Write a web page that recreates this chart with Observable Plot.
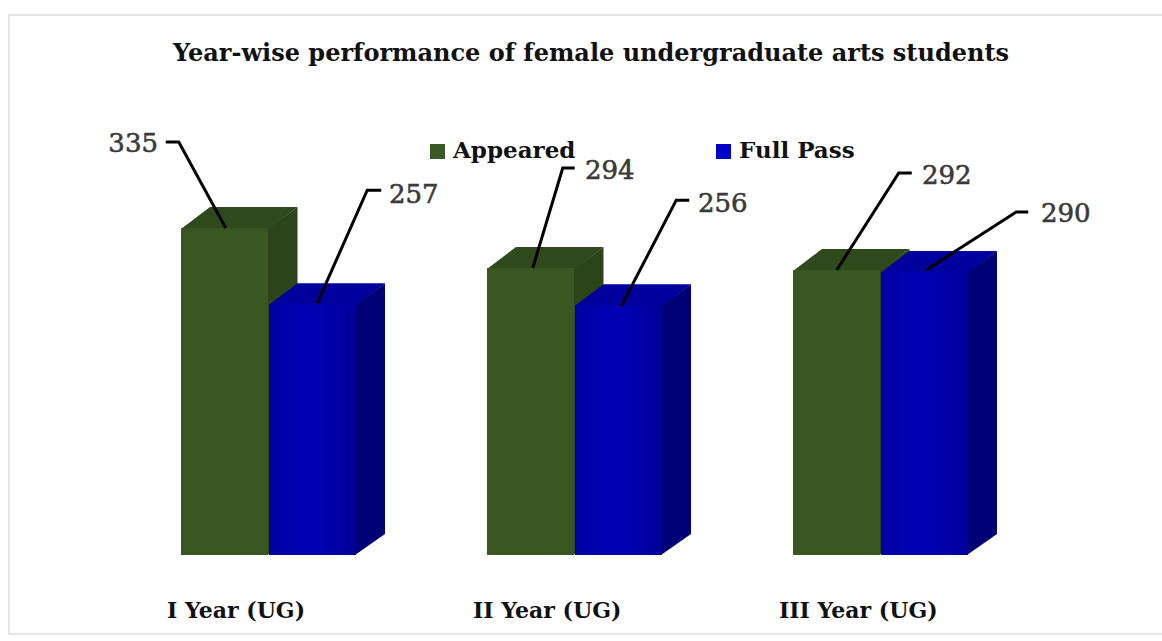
<!DOCTYPE html>
<html>
<head>
<meta charset="utf-8">
<script src="https://cdn.jsdelivr.net/npm/d3@7"></script>
<script src="https://cdn.jsdelivr.net/npm/@observablehq/plot@0.6"></script>
<style>
  body { margin: 0; background: #fff; }
  #wrap { position: relative; width: 1162px; height: 641px; overflow: hidden; font-family: "DejaVu Serif", serif; background: #fff; }
  #frame { position: absolute; left: 8px; top: 14px; width: 1180px; height: 621px; border: 2px solid #e6e6e6; box-sizing: border-box; }
  #title { position: absolute; left: 0; width: 1182px; top: 41px; text-align: center; font-weight: bold; font-size: 24px; line-height: 1; color: #111; white-space: nowrap; }
  .leg { position: absolute; top: 138px; display: flex; align-items: center; font-weight: bold; font-size: 23px; line-height: 1; color: #111; white-space: nowrap; }
  .sw { width: 15px; height: 15px; margin-right: 8px; position: relative; top: 2px; }
  #chart { position: absolute; left: 0; top: 0; }
</style>
</head>
<body>
<div id="wrap">
  <div id="frame"></div>
  <div id="title"></div>
  <div id="legend"></div>
  <div id="chart"></div>
</div>
<script>
// ---- data ----
const titleText = "Year-wise performance of female undergraduate arts students";
const years = ["I Year (UG)", "II Year (UG)", "III Year (UG)"];
const seriesNames = ["Appeared", "Full Pass"];
const appeared = [335, 294, 292];
const fullPass = [257, 256, 290];

// ---- styling / layout config ----
const palette = {
  "Appeared": { front: "#385723", top: "#2e4a1c", side: "#2b4419", legend: "#3a5a25" },
  "Full Pass": { front: "url(#blueGrad)", top: "#00009c", side: "#000076", legend: "#0000c8" }
};
const DEPTH_X = 29, DEPTH_Y = -21;
// leader offsets relative to the front-top centre of each bar (pixels)
const labelOffsets = [
  { ax: 1, ay: 0,  ex: -46, ey: -86,  len: 13, tx: -67, ty: -85 },
  { ax: 2, ay: 0,  ex: 32,  ey: -100, len: 12, tx: 54,  ty: -98 },
  { ax: 0, ay: 0,  ex: 62,  ey: -97,  len: 13, tx: 85,  ty: -95 },
  { ax: 5, ay: -1, ex: 55,  ey: -114, len: 14, tx: 76,  ty: -110 },
  { ax: 3, ay: 1,  ex: 58,  ey: -105, len: 13, tx: 79,  ty: -102 },
  { ax: 2, ay: -2, ex: 92,  ey: -60,  len: 12, tx: 116, ty: -59 }
];

const rows = [];
seriesNames.forEach((s, k) => {
  const vals = k === 0 ? appeared : fullPass;
  years.forEach((y, i) => rows.push({ year: y, series: s, value: vals[i], k, i }));
});
rows.forEach((d, j) => d.off = labelOffsets[j]);

document.getElementById("title").textContent = titleText;

// legend
const legend = document.getElementById("legend");
const legendLeft = [430, 716];
seriesNames.forEach((s, k) => {
  const item = document.createElement("div");
  item.className = "leg";
  item.style.left = legendLeft[k] + "px";
  const sw = document.createElement("span");
  sw.className = "sw";
  sw.style.background = palette[s].legend;
  item.appendChild(sw);
  item.appendChild(document.createTextNode(s));
  legend.appendChild(item);
});

function barGeom(d, scales) {
  const bw = scales.x.bandwidth();
  const L = scales.x(d.year) + d.k * bw / 2;
  const R = L + bw / 2;
  const T = scales.y(d.value);
  const B = scales.y(0);
  return { L, R, T, B, C: (L + R) / 2 };
}

function defsMark() {
  return () => {
    const g = d3.create("svg:g");
    const lg = g.append("defs").append("linearGradient")
      .attr("id", "blueGrad").attr("x1", "0").attr("x2", "1").attr("y1", "0").attr("y2", "0");
    lg.append("stop").attr("offset", "0%").attr("stop-color", "#0000a4");
    lg.append("stop").attr("offset", "45%").attr("stop-color", "#0000b4");
    lg.append("stop").attr("offset", "100%").attr("stop-color", "#00009c");
    return g.node();
  };
}

function facesMark(k) {
  return (index, scales) => {
    const g = d3.create("svg:g");
    rows.filter(d => d.k === k).forEach(d => {
      const { L, R, T, B } = barGeom(d, scales);
      const col = palette[d.series];
      const r = R - 1; // tuck under the front face to avoid a seam
      g.append("polygon")
        .attr("points", [[L, T + 1], [L + DEPTH_X, T + DEPTH_Y], [R + DEPTH_X, T + DEPTH_Y], [R, T + 1]].map(p => p.join(",")).join(" "))
        .attr("fill", col.top);
      g.append("polygon")
        .attr("points", [[r, T + 1], [R + DEPTH_X, T + DEPTH_Y], [R + DEPTH_X, B + DEPTH_Y], [r, B]].map(p => p.join(",")).join(" "))
        .attr("fill", col.side);
    });
    return g.node();
  };
}

function leadersMark() {
  return (index, scales) => {
    const g = d3.create("svg:g");
    rows.forEach(d => {
      const { C, T } = barGeom(d, scales);
      const o = d.off;
      const dir = o.tx < 0 ? -1 : 1;
      const ex = C + o.ex, ey = T + o.ey;
      const pts = [[C + o.ax, T + o.ay], [ex, ey], [ex + dir * o.len, ey]];
      g.append("path")
        .attr("d", d3.line()(pts))
        .attr("fill", "none")
        .attr("stroke", "#000")
        .attr("stroke-width", 3)
        .attr("stroke-linejoin", "miter");
    });
    return g.node();
  };
}

const marks = [defsMark()];
seriesNames.forEach((s, k) => {
  marks.push(facesMark(k));
  marks.push(Plot.barY(rows.filter(d => d.k === k), {
    x: "year", y: "value", fill: palette[s].front,
    insetLeft: k === 0 ? 0 : 88, insetRight: k === 0 ? 88 : 0
  }));
});
marks.push(leadersMark());
rows.forEach(d => {
  const half = d.k === 0 ? -44 : 44;
  marks.push(Plot.text([d], {
    x: "year", y: "value", text: r => String(r.value),
    dx: half + d.off.tx, dy: d.off.ty,
    textAnchor: d.off.tx < 0 ? "end" : "start",
    fontSize: 26, fill: "#3a3a3a", stroke: "#3a3a3a", strokeWidth: 0.6, lineAnchor: "middle"
  }));
});
marks.push(Plot.text(years, {
  x: d => d, frameAnchor: "bottom", text: d => d,
  dx: -102, dy: 62, textAnchor: "start", lineAnchor: "bottom",
  fontSize: 22, fontWeight: "bold", fill: "#111"
}));

const chart = Plot.plot({
  width: 1162,
  height: 641,
  marginLeft: 180,
  marginRight: 192,
  marginTop: 67,
  marginBottom: 86,
  x: { type: "band", domain: years, paddingInner: 0.42671, paddingOuter: 0, axis: null },
  y: { domain: [0, 500], axis: null },
  style: { fontFamily: "DejaVu Serif", background: "transparent", overflow: "visible" },
  marks
});
document.getElementById("chart").appendChild(chart);
</script>
</body>
</html>
